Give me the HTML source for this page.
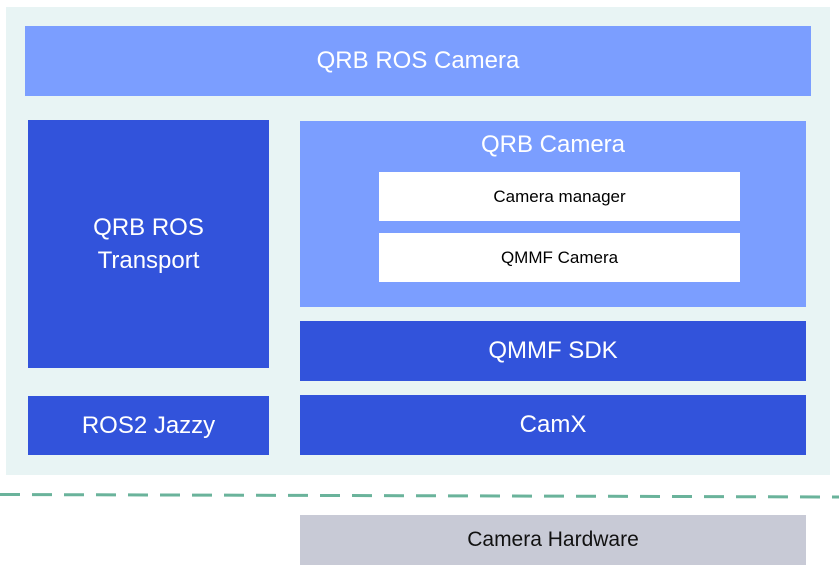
<!DOCTYPE html>
<html><head><style>
body{margin:0;width:839px;height:574px;background:#fff;position:relative;overflow:hidden;font-family:"Liberation Sans",Arial,sans-serif}
div.b{position:absolute;display:flex;align-items:center;justify-content:center;text-align:center;color:#fff}
.l{background:#7b9eff}.d{background:#3253db}.w{background:#fff;color:#000!important;font-size:17px}
</style></head><body>
<div class="b" style="left:6px;top:7px;width:824px;height:468px;background:#e8f4f4"></div>
<div class="b l" style="left:25px;top:26px;width:786px;height:70px;font-size:24px">QRB ROS Camera</div>
<div class="b d" style="left:28px;top:120px;width:241px;height:248px;font-size:24px;line-height:33px">QRB ROS<br>Transport</div>
<div class="b d" style="left:28px;top:396px;width:241px;height:59px;font-size:24px">ROS2 Jazzy</div>
<div class="b l" style="left:300px;top:121px;width:506px;height:186px;font-size:24px;align-items:flex-start;padding-top:10px;box-sizing:border-box">QRB Camera</div>
<div class="b w" style="left:379px;top:172px;width:361px;height:49px">Camera manager</div>
<div class="b w" style="left:379px;top:233px;width:361px;height:49px">QMMF Camera</div>
<div class="b d" style="left:300px;top:321px;width:506px;height:60px;font-size:24px">QMMF SDK</div>
<div class="b d" style="left:300px;top:395px;width:506px;height:60px;font-size:24px">CamX</div>
<svg style="position:absolute;left:0;top:0" width="839" height="574"><line x1="0" y1="494.5" x2="839" y2="497" stroke="#6ab39b" stroke-width="3" stroke-dasharray="20,12"/></svg>
<div class="b" style="left:300px;top:515px;width:506px;height:50px;background:#c8cad6;color:#111;font-size:21px">Camera Hardware</div>
</body></html>
